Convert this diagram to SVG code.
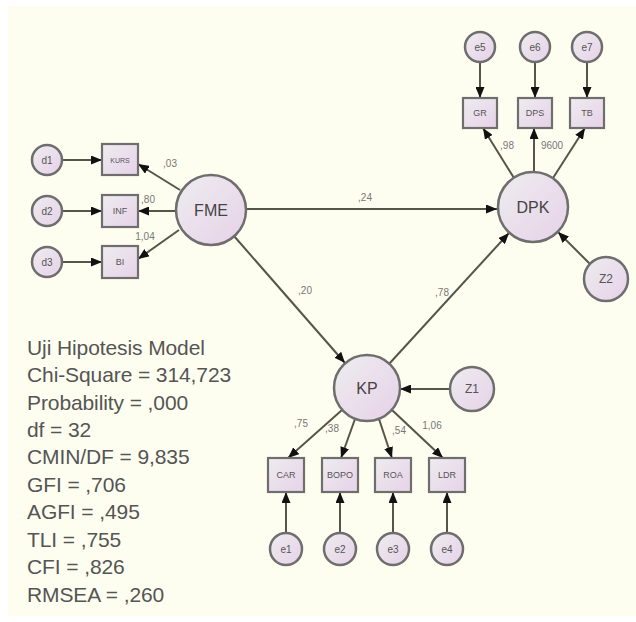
<svg xmlns="http://www.w3.org/2000/svg" width="636" height="622" viewBox="0 0 636 622">
<defs>
<linearGradient id="lg" x1="0" y1="0" x2="1" y2="1">
<stop offset="0" stop-color="#eeecef"/>
<stop offset="1" stop-color="#e6d2e8"/>
</linearGradient>
<marker id="ah" viewBox="0 0 11 9" refX="11" refY="4.5" markerWidth="11" markerHeight="9" markerUnits="userSpaceOnUse" orient="auto">
<path d="M0,0 L11,4.5 L0,9 z" fill="#111"/>
</marker>
<style>
.c{fill:url(#lg);stroke:#6e6e6e;stroke-width:2.5}
.b{fill:url(#lg);stroke:#6e6e6e;stroke-width:2.2}
.l{stroke:#555548;stroke-width:2;fill:none;marker-end:url(#ah)}
.t{font-family:"Liberation Sans",Arial,sans-serif;fill:#555;text-anchor:middle;dominant-baseline:central}
.big{font-size:16px;fill:#444}
.sm{font-size:9px}
.xs{font-size:7px}
.e{font-size:10px}
.lab{font-family:"Liberation Sans",Arial,sans-serif;fill:#777;font-size:10px;text-anchor:middle;dominant-baseline:central}
.fit{font-family:"Liberation Sans",Arial,sans-serif;fill:#555;font-size:21px;letter-spacing:-0.1px}
</style>
</defs>
<rect x="0" y="0" width="636" height="622" fill="#ffffff"/>
<rect x="8" y="6" width="628" height="610" fill="#fefef0"/>

<g id="connectors">
<line class="l" x1="62" y1="160" x2="102" y2="160"/>
<line class="l" x1="62" y1="211" x2="102" y2="211"/>
<line class="l" x1="62" y1="262" x2="102" y2="262"/>
<line class="l" x1="180" y1="190" x2="138" y2="164"/>
<line class="l" x1="176" y1="211" x2="138" y2="211"/>
<line class="l" x1="179" y1="230" x2="138" y2="259"/>
<line class="l" x1="246" y1="209" x2="497" y2="209"/>
<line class="l" x1="234" y1="236" x2="345" y2="363"/>
<line class="l" x1="389" y1="364" x2="509" y2="233"/>
<line class="l" x1="590" y1="264" x2="558" y2="232"/>
<line class="l" x1="450" y1="389" x2="400" y2="389"/>
<line class="l" x1="342" y1="410" x2="288" y2="458"/>
<line class="l" x1="355" y1="419" x2="341" y2="458"/>
<line class="l" x1="379" y1="419" x2="392" y2="458"/>
<line class="l" x1="392" y1="410" x2="443" y2="458"/>
<line class="l" x1="514" y1="178" x2="483" y2="128"/>
<line class="l" x1="534" y1="172" x2="534" y2="128"/>
<line class="l" x1="553" y1="178" x2="585" y2="128"/>
<line class="l" x1="480" y1="62" x2="480" y2="98"/>
<line class="l" x1="535" y1="62" x2="535" y2="98"/>
<line class="l" x1="587" y1="62" x2="587" y2="98"/>
<line class="l" x1="286" y1="533" x2="286" y2="492"/>
<line class="l" x1="340" y1="533" x2="340" y2="492"/>
<line class="l" x1="393" y1="533" x2="393" y2="492"/>
<line class="l" x1="447" y1="533" x2="447" y2="492"/>
<text class="lab" x="170" y="163">,03</text>
<text class="lab" x="148" y="199">,80</text>
<text class="lab" x="145" y="236">1,04</text>
<text class="lab" x="365" y="197">,24</text>
<text class="lab" x="305" y="290">,20</text>
<text class="lab" x="442" y="292">,78</text>
<text class="lab" x="507" y="145">,98</text>
<text class="lab" x="552" y="145">9600</text>
<text class="lab" x="301" y="423">,75</text>
<text class="lab" x="332" y="428">,38</text>
<text class="lab" x="399" y="430">,54</text>
<text class="lab" x="432" y="425">1,06</text>
</g>

<g id="FME"><circle class="c" cx="211" cy="210" r="35"/><text class="t big" x="211" y="210">FME</text></g>
<g id="DPK"><circle class="c" cx="533" cy="207" r="35"/><text class="t big" x="533" y="207">DPK</text></g>
<g id="KP"><circle class="c" cx="367" cy="388" r="33"/><text class="t big" x="367" y="388">KP</text></g>
<g id="Z1"><circle class="c" cx="472" cy="389" r="22"/><text class="t" font-size="12" x="472" y="389">Z1</text></g>
<g id="Z2"><circle class="c" cx="606" cy="279" r="22"/><text class="t" font-size="12" x="606" y="279">Z2</text></g>

<g id="KURS"><rect class="b" x="102" y="144" width="36" height="31"/><text class="t xs" x="120" y="160">KURS</text></g>
<g id="INF"><rect class="b" x="102" y="195" width="36" height="32"/><text class="t sm" x="120" y="211">INF</text></g>
<g id="BI"><rect class="b" x="102" y="246" width="36" height="32"/><text class="t sm" x="120" y="262">BI</text></g>
<g id="d1"><circle class="c" cx="47" cy="160" r="15"/><text class="t e" x="47" y="160">d1</text></g>
<g id="d2"><circle class="c" cx="47" cy="211" r="15"/><text class="t e" x="47" y="211">d2</text></g>
<g id="d3"><circle class="c" cx="47" cy="262" r="15"/><text class="t e" x="47" y="262">d3</text></g>

<g id="GR"><rect class="b" x="463" y="98" width="34" height="30"/><text class="t sm" x="480" y="113">GR</text></g>
<g id="DPS"><rect class="b" x="518" y="98" width="34" height="30"/><text class="t sm" x="535" y="113">DPS</text></g>
<g id="TB"><rect class="b" x="570" y="98" width="34" height="30"/><text class="t sm" x="587" y="113">TB</text></g>
<g id="e5"><circle class="c" cx="480" cy="47" r="15"/><text class="t e" x="480" y="47">e5</text></g>
<g id="e6"><circle class="c" cx="535" cy="47" r="15"/><text class="t e" x="535" y="47">e6</text></g>
<g id="e7"><circle class="c" cx="587" cy="47" r="15"/><text class="t e" x="587" y="47">e7</text></g>

<g id="CAR"><rect class="b" x="268" y="458" width="36" height="34"/><text class="t sm" x="286" y="475">CAR</text></g>
<g id="BOPO"><rect class="b" x="322" y="458" width="36" height="34"/><text class="t sm" x="340" y="475">BOPO</text></g>
<g id="ROA"><rect class="b" x="375" y="458" width="36" height="34"/><text class="t sm" x="393" y="475">ROA</text></g>
<g id="LDR"><rect class="b" x="429" y="458" width="36" height="34"/><text class="t sm" x="447" y="475">LDR</text></g>
<g id="e1"><circle class="c" cx="286" cy="549" r="16"/><text class="t e" x="286" y="549">e1</text></g>
<g id="e2"><circle class="c" cx="340" cy="549" r="16"/><text class="t e" x="340" y="549">e2</text></g>
<g id="e3"><circle class="c" cx="393" cy="549" r="16"/><text class="t e" x="393" y="549">e3</text></g>
<g id="e4"><circle class="c" cx="447" cy="549" r="16"/><text class="t e" x="447" y="549">e4</text></g>

<g id="fit">
<text class="fit" x="27" y="355">Uji Hipotesis Model</text>
<text class="fit" x="27" y="382">Chi-Square = 314,723</text>
<text class="fit" x="27" y="410">Probability = ,000</text>
<text class="fit" x="27" y="437">df = 32</text>
<text class="fit" x="27" y="464">CMIN/DF = 9,835</text>
<text class="fit" x="27" y="492">GFI = ,706</text>
<text class="fit" x="27" y="519">AGFI = ,495</text>
<text class="fit" x="27" y="547">TLI = ,755</text>
<text class="fit" x="27" y="574">CFI = ,826</text>
<text class="fit" x="27" y="602">RMSEA = ,260</text>
</g>
</svg>
